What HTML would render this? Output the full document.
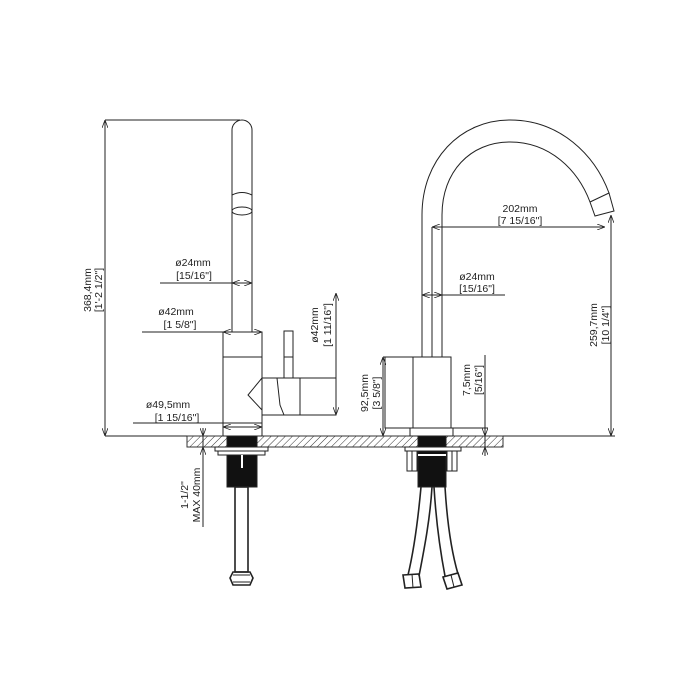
<!DOCTYPE html>
<html><head><style>
html,body{margin:0;padding:0;background:#fff;}
svg{display:block;}
text{font-family:"Liberation Sans",sans-serif;font-size:10.5px;fill:#222;}
</style></head><body>
<svg width="700" height="700" viewBox="0 0 700 700" xmlns="http://www.w3.org/2000/svg">
<defs>
<pattern id="h" width="5" height="5" patternUnits="userSpaceOnUse" patternTransform="rotate(45)">
<line x1="0" y1="0" x2="0" y2="5" stroke="#333" stroke-width="1"/>
</pattern>
<marker id="a" markerWidth="8" markerHeight="6" refX="8" refY="3" orient="auto-start-reverse" markerUnits="userSpaceOnUse">
<path d="M0,0 L8,3 L0,6" fill="none" stroke="#222" stroke-width="0.8"/>
</marker>
</defs>
<g stroke="#222" stroke-width="1" fill="none">
<!-- countertop -->
<rect x="187" y="436" width="316" height="11" fill="url(#h)" stroke="#333"/>
<!-- LEFT FAUCET -->
<path d="M232,332 L232,130 A10,10 0 0 1 252,130 L252,332"/>
<path d="M232,195 Q242,190 252,195"/>
<ellipse cx="242" cy="211" rx="10" ry="4"/>
<line x1="232" y1="332" x2="232" y2="357"/><line x1="252" y1="332" x2="252" y2="357"/>
<rect x="223" y="332" width="39" height="91" fill="#fff"/>
<line x1="223" y1="357" x2="262" y2="357"/>
<path d="M262,378 L336,378 L336,415 L262,415"/>
<path d="M262,378 L248,395 L262,410"/>
<path d="M277,378 L280,405 L284,415"/>
<line x1="300" y1="378" x2="300" y2="415"/>
<rect x="284" y="331" width="9" height="47"/>
<line x1="284" y1="357" x2="293" y2="357"/>
<rect x="223" y="423" width="39" height="13"/>
<!-- left dims -->
<line x1="105" y1="120" x2="105" y2="436" marker-start="url(#a)" marker-end="url(#a)"/>
<line x1="105" y1="120" x2="240" y2="120"/>
<line x1="105" y1="436" x2="187" y2="436"/>
<line x1="160" y1="283" x2="252" y2="283"/>
<line x1="232" y1="283" x2="252" y2="283" marker-start="url(#a)" marker-end="url(#a)"/>
<line x1="142" y1="332" x2="262" y2="332"/>
<line x1="223" y1="332" x2="262" y2="332" marker-start="url(#a)" marker-end="url(#a)"/>
<line x1="133" y1="423" x2="262" y2="423"/>
<line x1="223" y1="427" x2="262" y2="427" marker-start="url(#a)" marker-end="url(#a)"/>
<line x1="336" y1="293" x2="336" y2="415" marker-start="url(#a)" marker-end="url(#a)"/>
<line x1="203" y1="428" x2="203" y2="527"/>
<line x1="203" y1="428" x2="203" y2="436" marker-end="url(#a)"/>
<line x1="203" y1="455" x2="203" y2="447" marker-end="url(#a)"/>
<!-- left underside -->
<rect x="227" y="436" width="30" height="11" fill="#111"/>
<rect x="215" y="447" width="53" height="4" fill="#fff"/>
<rect x="218" y="451" width="47" height="4" fill="#fff"/>
<rect x="227" y="455" width="30" height="32" fill="#111"/>
<line x1="242" y1="455" x2="242" y2="468" stroke="#fff" stroke-width="2"/>
<rect x="235" y="487" width="13" height="85" stroke-width="1.6"/>
<path d="M233,572 L250,572 L253,578 L250,585 L233,585 L230,578 Z" stroke-width="1.6"/>
<line x1="233" y1="575" x2="250" y2="575"/><line x1="233" y1="582" x2="250" y2="582"/>
<!-- RIGHT FAUCET -->
<path d="M422,357 L422,215 C422,160 460,120 510,120 C560,120 595,155 609,193"/>
<path d="M442,357 L442,215 C442,172 470,142 510,142 C550,142 578,170 590,202"/>
<path d="M590,202 L609,193 L614,211 L595,216 Z"/>
<line x1="432" y1="227" x2="432" y2="357"/>
<rect x="385" y="357" width="66" height="71"/>
<line x1="413" y1="357" x2="413" y2="428"/>
<rect x="410" y="428" width="43" height="8"/>
<!-- right dims -->
<line x1="432" y1="227" x2="605" y2="227" marker-start="url(#a)" marker-end="url(#a)"/>
<line x1="611" y1="215" x2="611" y2="436" marker-start="url(#a)" marker-end="url(#a)"/>
<line x1="503" y1="436" x2="615" y2="436"/>
<line x1="422" y1="295" x2="505" y2="295"/>
<line x1="422" y1="295" x2="442" y2="295" marker-start="url(#a)" marker-end="url(#a)"/>
<line x1="383" y1="357" x2="383" y2="436" marker-start="url(#a)" marker-end="url(#a)"/>
<line x1="383" y1="357" x2="385" y2="357"/>
<line x1="485" y1="355" x2="485" y2="456"/>
<line x1="485" y1="420" x2="485" y2="436" marker-end="url(#a)"/>
<line x1="485" y1="456" x2="485" y2="447" marker-end="url(#a)"/>
<line x1="451" y1="428" x2="488" y2="428"/>
<!-- right underside -->
<rect x="418" y="436" width="28" height="51" fill="#111"/>
<rect x="405" y="447" width="56" height="4" fill="#fff"/>
<line x1="418" y1="455" x2="446" y2="455" stroke="#fff" stroke-width="2"/>
<rect x="407" y="451" width="10" height="20" fill="#fff"/>
<rect x="447" y="451" width="10" height="20" fill="#fff"/>
<line x1="412" y1="451" x2="412" y2="471"/><line x1="452" y1="451" x2="452" y2="471"/>
<path d="M421,487 C418,520 414,550 408,575 M432,487 C430,520 424,550 419,576" stroke-width="1.6"/>
<path d="M434,487 C436,520 440,550 445,576 M445,487 C447,520 451,550 458,574" stroke-width="1.6"/>
<path d="M403,575 L419,574 L421,587 L405,588 Z" stroke-width="1.6"/>
<line x1="412" y1="574" x2="413" y2="588"/>
<path d="M443,577 L458,573 L462,585 L447,589 Z" stroke-width="1.6"/>
<line x1="451" y1="575" x2="454" y2="587"/>
</g>
<!-- LEFT TEXT -->
<text x="193" y="266" text-anchor="middle">ø24mm</text>
<text x="194" y="279" text-anchor="middle">[15/16"]</text>
<text x="176" y="315" text-anchor="middle">ø42mm</text>
<text x="180" y="328" text-anchor="middle">[1 5/8"]</text>
<text x="168" y="408" text-anchor="middle">ø49,5mm</text>
<text x="177" y="421" text-anchor="middle">[1 15/16"]</text>
<text transform="translate(91,290) rotate(-90)" text-anchor="middle">368,4mm</text>
<text transform="translate(102,290) rotate(-90)" text-anchor="middle">[1'-2 1/2"]</text>
<text transform="translate(318,325) rotate(-90)" text-anchor="middle">ø42mm</text>
<text transform="translate(331,325) rotate(-90)" text-anchor="middle">[1 11/16"]</text>
<text transform="translate(188,495) rotate(-90)" text-anchor="middle">1-1/2"</text>
<text transform="translate(200,495) rotate(-90)" text-anchor="middle">MAX 40mm</text>
<!-- RIGHT TEXT -->
<text x="520" y="212" text-anchor="middle">202mm</text>
<text x="520" y="224" text-anchor="middle">[7 15/16"]</text>
<text x="477" y="280" text-anchor="middle">ø24mm</text>
<text x="477" y="292" text-anchor="middle">[15/16"]</text>
<text transform="translate(597,325) rotate(-90)" text-anchor="middle">259,7mm</text>
<text transform="translate(609,325) rotate(-90)" text-anchor="middle">[10 1/4"]</text>
<text transform="translate(368,393) rotate(-90)" text-anchor="middle">92,5mm</text>
<text transform="translate(380,393) rotate(-90)" text-anchor="middle">[3 5/8"]</text>
<text transform="translate(470,380) rotate(-90)" text-anchor="middle">7,5mm</text>
<text transform="translate(482,380) rotate(-90)" text-anchor="middle">[5/16"]</text>
</svg>
</body></html>
